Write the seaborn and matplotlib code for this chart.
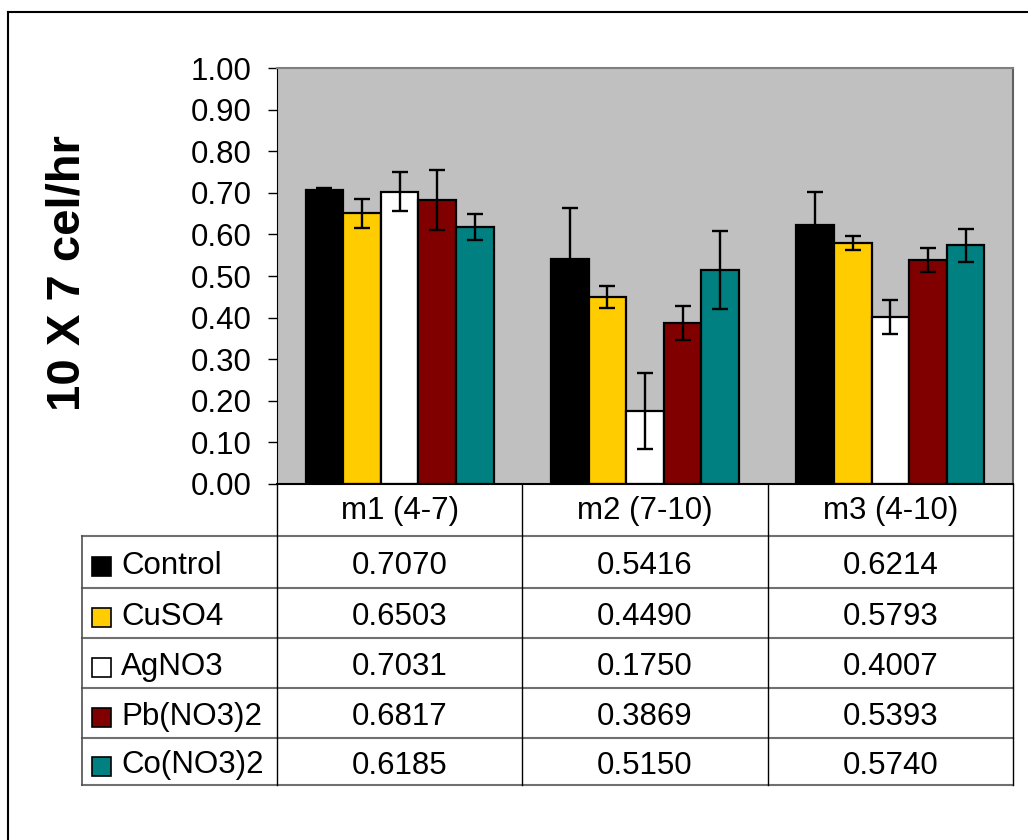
import pandas as pd
import numpy as np
import matplotlib
matplotlib.use("Agg")
import matplotlib.pyplot as plt
import seaborn as sns
from matplotlib.lines import Line2D
from matplotlib.patches import Rectangle

# data
periods = ["m1 (4-7)", "m2 (7-10)", "m3 (4-10)"]
treatments = ["Control", "CuSO4", "AgNO3", "Pb(NO3)2", "Co(NO3)2"]
colors = ["#000000", "#FFCC00", "#FFFFFF", "#800000", "#008080"]

control = [0.7070, 0.5416, 0.6214]
cuso4 = [0.6503, 0.4490, 0.5793]
agno3 = [0.7031, 0.1750, 0.4007]
pbno3 = [0.6817, 0.3869, 0.5393]
cono3 = [0.6185, 0.5150, 0.5740]

# error bars (estimated)
control_err = [0.005, 0.121, 0.080]
cuso4_err = [0.034, 0.027, 0.017]
agno3_err = [0.048, 0.092, 0.041]
pbno3_err = [0.072, 0.041, 0.029]
cono3_err = [0.031, 0.094, 0.040]

values = [control, cuso4, agno3, pbno3, cono3]
errors = [control_err, cuso4_err, agno3_err, pbno3_err, cono3_err]

rows = []
for t, vals, errs in zip(treatments, values, errors):
    for p, v, e in zip(periods, vals, errs):
        rows.append({"period": p, "treatment": t, "value": v, "err": e})
df = pd.DataFrame(rows)

W, H = 1028, 840
plt.rcParams["font.family"] = ["Liberation Sans", "DejaVu Sans"]

fig = plt.figure(figsize=(W / 100, H / 100), dpi=100)

def fx(x):
    return x / W

def fy(y):
    return 1 - y / H

left, right, top, bottom = 277, 1013, 68, 484
ax = fig.add_axes([fx(left), fy(bottom), fx(right) - fx(left), fy(top) - fy(bottom)])
ax.set_facecolor("#C0C0C0")

sns.barplot(
    data=df, x="period", y="value", hue="treatment",
    order=periods, hue_order=treatments, palette=colors, saturation=1,
    width=0.767, gap=0, edgecolor="black", linewidth=1.6,
    errorbar=None, legend=False, ax=ax
)

# error bars at bar centers (patches are hue-major, same as df)
for patch, e in zip(ax.patches, df["err"]):
    xc = patch.get_x() + patch.get_width() / 2
    ax.errorbar(xc, patch.get_height(), yerr=e, fmt="none", ecolor="black",
                elinewidth=1.7, capsize=5.5, capthick=1.7, zorder=5)

ax.set_ylim(0, 1.0)
ax.set_xlim(-0.5, 2.5)
ax.set_yticks(np.arange(0, 1.01, 0.1))
ax.set_yticklabels([f"{v:.2f}" for v in np.arange(0, 1.01, 0.1)], fontsize=22.5)
ax.tick_params(axis="y", direction="out", length=6.5, width=1, pad=12)
ax.tick_params(axis="x", length=0, labelsize=22.5, pad=9)
ax.set_xlabel("")
ax.set_ylabel("")

ax.spines["left"].set_color("black")
ax.spines["bottom"].set_color("black")
ax.spines["bottom"].set_linewidth(1.5)
ax.spines["top"].set_color("#808080")
ax.spines["top"].set_linewidth(1.5)
ax.spines["right"].set_color("#606060")
ax.spines["right"].set_linewidth(1.5)

fig.text(fx(67), fy(273), "10 X 7 cel/hr", rotation=90, ha="center", va="center",
         fontsize=34, fontweight="bold")

# data table below the chart
row_lines = [536, 588, 638, 688, 738, 785]
col_lines = [277, 522, 768, 1013]
tbl_left = 82

for y in row_lines:
    fig.add_artist(Line2D([fx(tbl_left), fx(right)], [fy(y), fy(y)],
                          color="#707070", lw=1.5))
fig.add_artist(Line2D([fx(tbl_left), fx(tbl_left)], [fy(536), fy(785)], color="#505050", lw=1.2))
for x in col_lines:
    fig.add_artist(Line2D([fx(x), fx(x)], [fy(bottom), fy(785)], color="black", lw=1.0))

for i, (t, c, vals) in enumerate(zip(treatments, colors, values)):
    yc = (row_lines[i] + row_lines[i + 1]) / 2 + 4
    fig.add_artist(Rectangle((fx(92), fy(yc + 10)), 19 / W, 19 / H,
                             facecolor=c, edgecolor="black", lw=1.2))
    fig.text(fx(121), fy(yc), t, ha="left", va="center", fontsize=22.5)
    for j, v in enumerate(vals):
        xc = (col_lines[j] + col_lines[j + 1]) / 2
        fig.text(fx(xc), fy(yc), f"{v:.4f}", ha="center", va="center", fontsize=22.5)

# outer chart frame
fig.add_artist(Line2D([fx(8), 1], [fy(12), fy(12)], color="black", lw=1.5))
fig.add_artist(Line2D([fx(8), fx(8)], [fy(12), 0], color="black", lw=1.5))

fig.savefig("out.png", dpi=100)
